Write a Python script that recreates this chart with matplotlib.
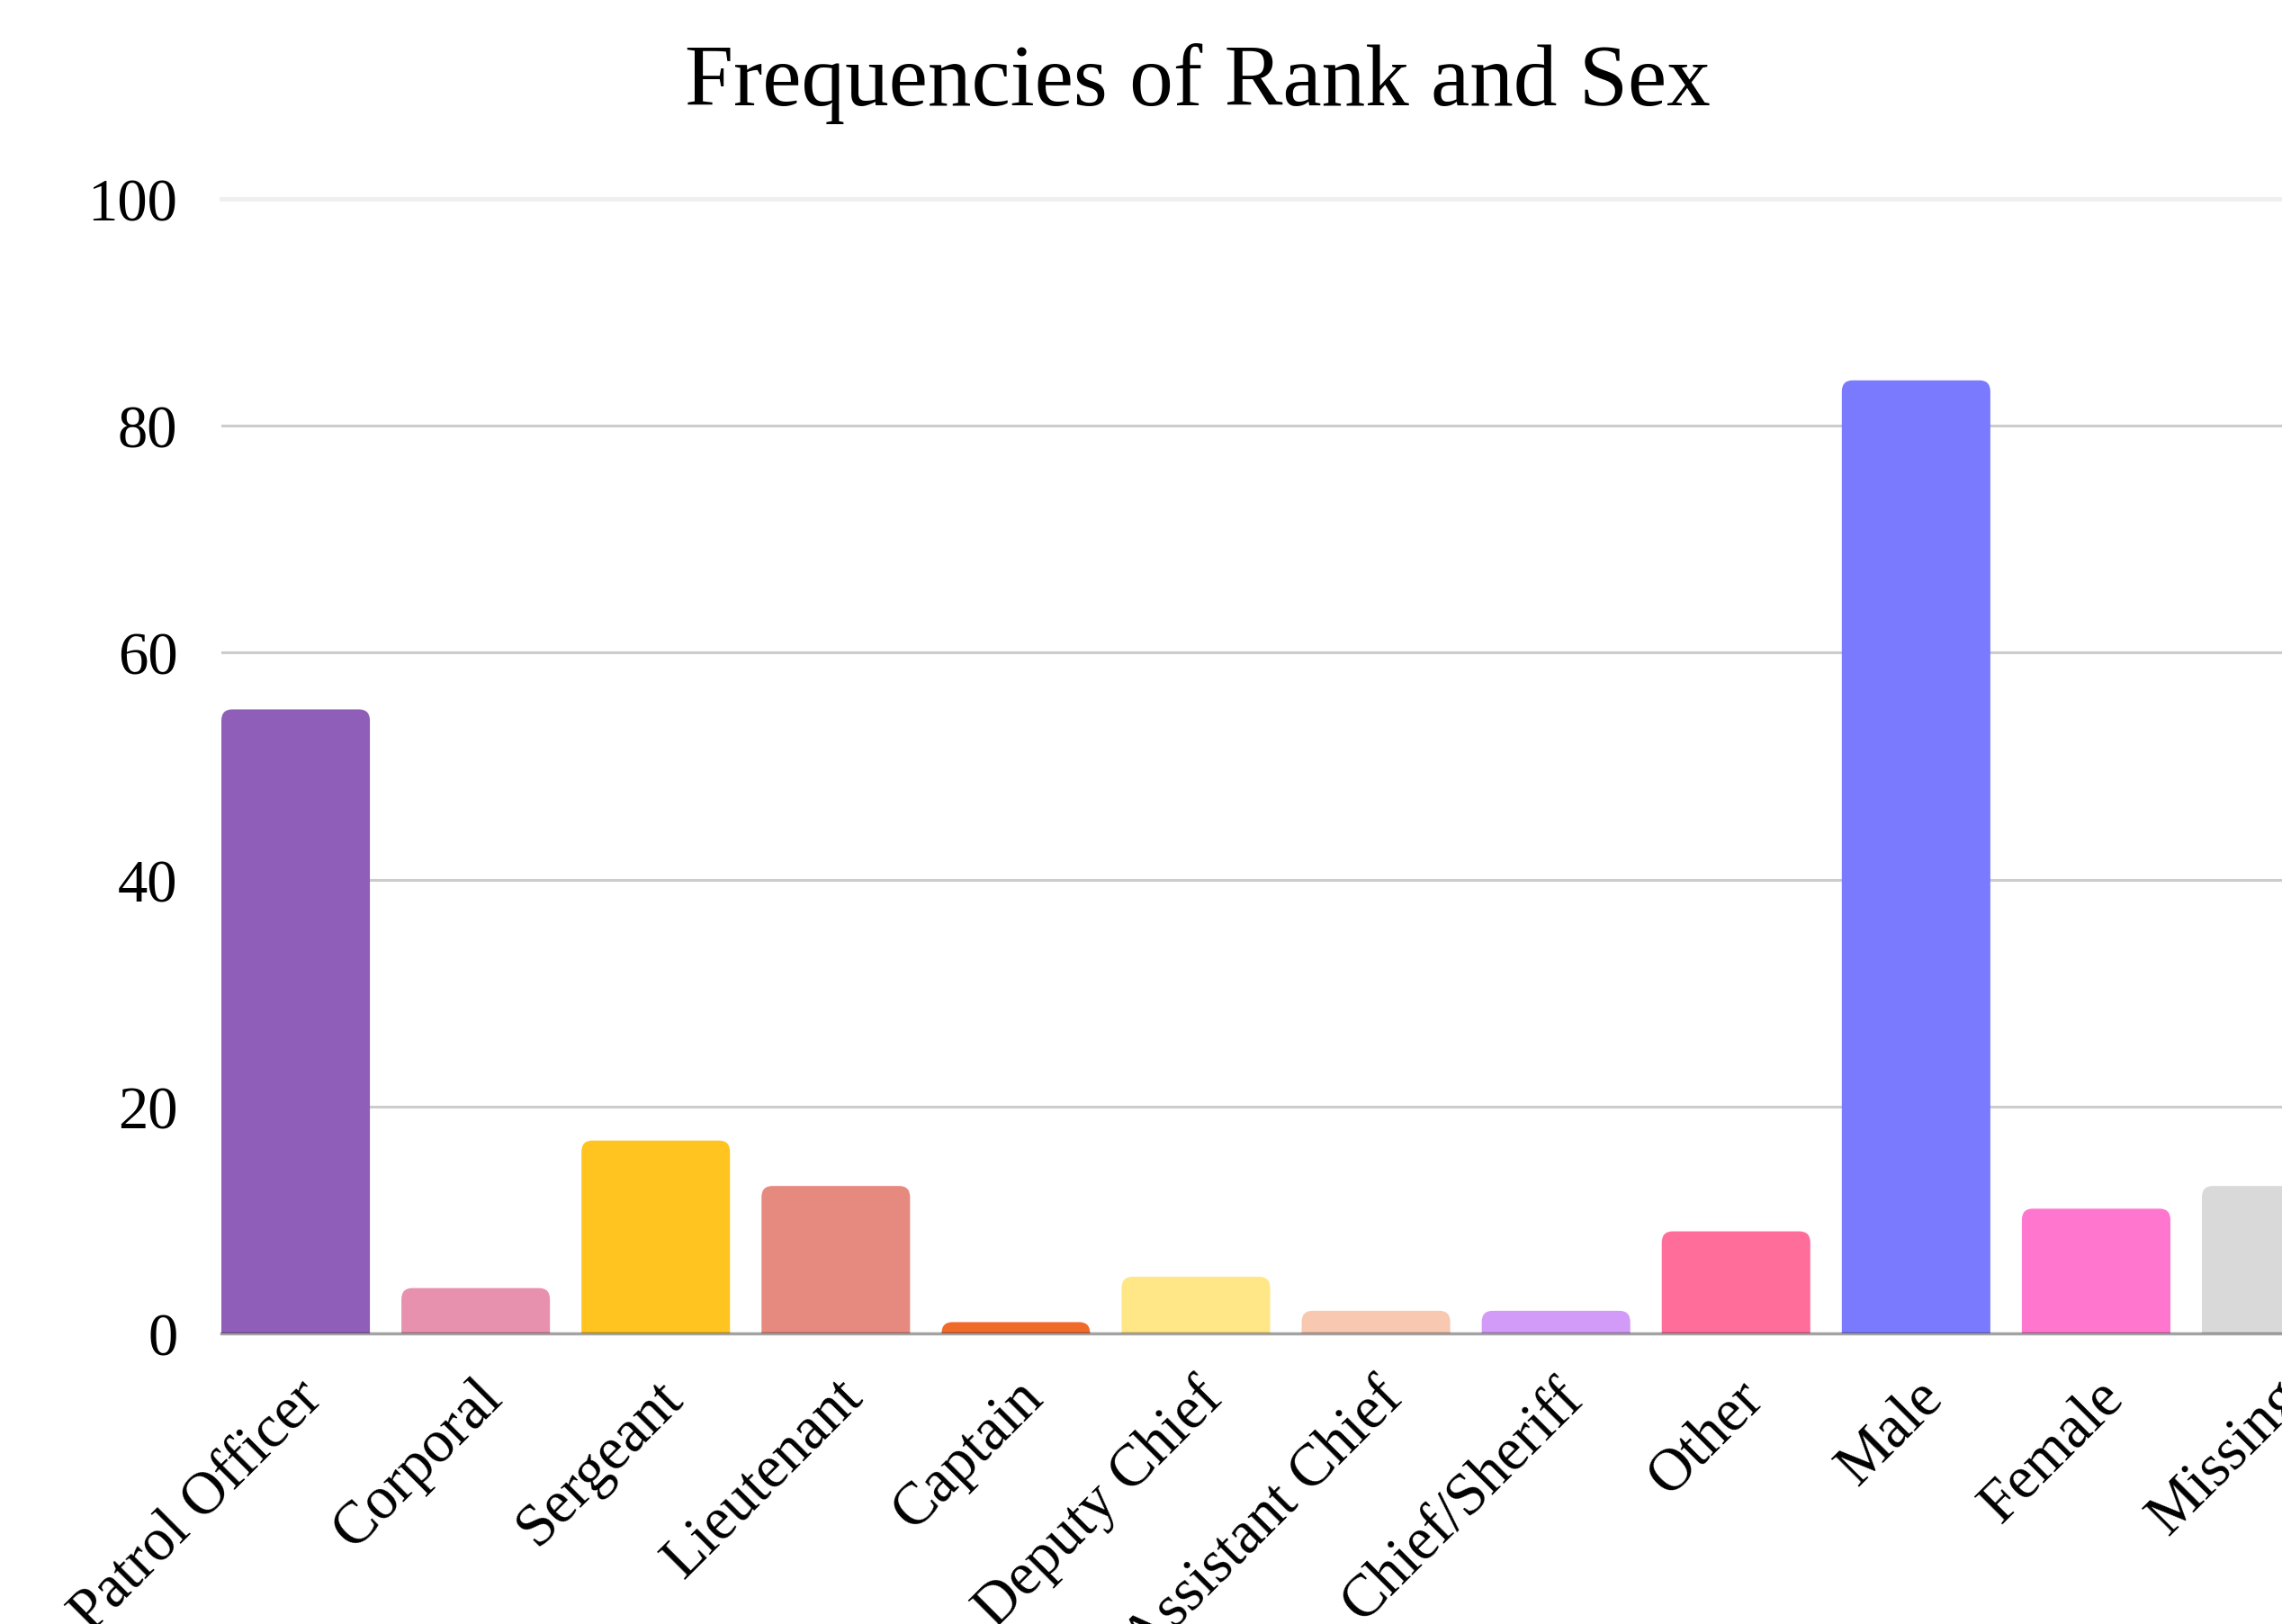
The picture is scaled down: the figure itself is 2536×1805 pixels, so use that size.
import numpy as np
import matplotlib
matplotlib.use('Agg')
import matplotlib.pyplot as plt
import matplotlib.transforms as mtransforms
from matplotlib.patches import FancyBboxPatch

# 数据
categories = ['Patrol Officer', 'Corporal', 'Sergeant', 'Lieutenant', 'Captain',
              'Deputy Chief', 'Assistant Chief', 'Chief/Sheriff', 'Other',
              'Male', 'Female', 'Missing']
counts = [55, 4, 17, 13, 1, 5, 2, 2, 9, 84, 11, 13]
colors = ['#8E5EB8', '#E891AF', '#FFC420', '#E68A80', '#F06A2A', '#FFE787',
          '#F8C8B0', '#D29BF8', '#FF6D9B', '#7A7AFF', '#FF76CF', '#D9D9D9']
y_ticks = [0, 20, 40, 60, 80, 100]

plt.rcParams['font.family'] = ['Liberation Serif', 'DejaVu Serif']

fig = plt.figure(figsize=(25.36, 18.06), dpi=100)
# 图表右侧被裁掉，所以坐标轴超出画布
ax = fig.add_axes([0.0970, 0.1788, 0.9330, 0.6983])

x = np.arange(len(categories))
bar_w = 0.825
ax.set_xlim(-bar_w / 2, len(categories) - 1 + bar_w / 2)
ax.set_ylim(0, 100)

# 圆角柱子：下端伸到 0 以下再被坐标轴裁掉，只留顶部圆角
r_x, r_y = 0.06, 1.0
for xi, v, c in zip(x, counts, colors):
    p = FancyBboxPatch((xi - bar_w / 2, -r_y), bar_w, v + r_y,
                       boxstyle=f'round,pad=0,rounding_size={r_x}',
                       mutation_aspect=r_y / r_x, facecolor=c,
                       edgecolor='none', zorder=2)
    ax.add_patch(p)

# 网格线
for t in y_ticks[1:-1]:
    ax.axhline(t, color='#CCCCCC', lw=2.2, zorder=1)
ax.axhline(100, color='#EFEFEF', lw=3.5, zorder=1, clip_on=False)
ax.axhline(0, color='#333333', alpha=0.45, lw=2.5, zorder=3, clip_on=False)

for s in ax.spines.values():
    s.set_visible(False)

ax.set_yticks(y_ticks)
ax.set_yticklabels([str(t) for t in y_ticks])
ax.tick_params(axis='y', length=0, pad=35, labelsize=48)

ax.set_xticks(x)
ax.set_xticklabels(categories, rotation=45, ha='right', va='center',
                   rotation_mode='anchor')
ax.tick_params(axis='x', length=0, pad=44, labelsize=48)
offset = mtransforms.ScaledTranslation(0.2, 0, fig.dpi_scale_trans)
for lab in ax.get_xticklabels():
    lab.set_transform(lab.get_transform() + offset)

fig.text(0.525, 1 - 117 / 1806, 'Frequencies of Rank and Sex', fontsize=70,
         ha='center', va='baseline')

fig.savefig('out.png', dpi=100)
